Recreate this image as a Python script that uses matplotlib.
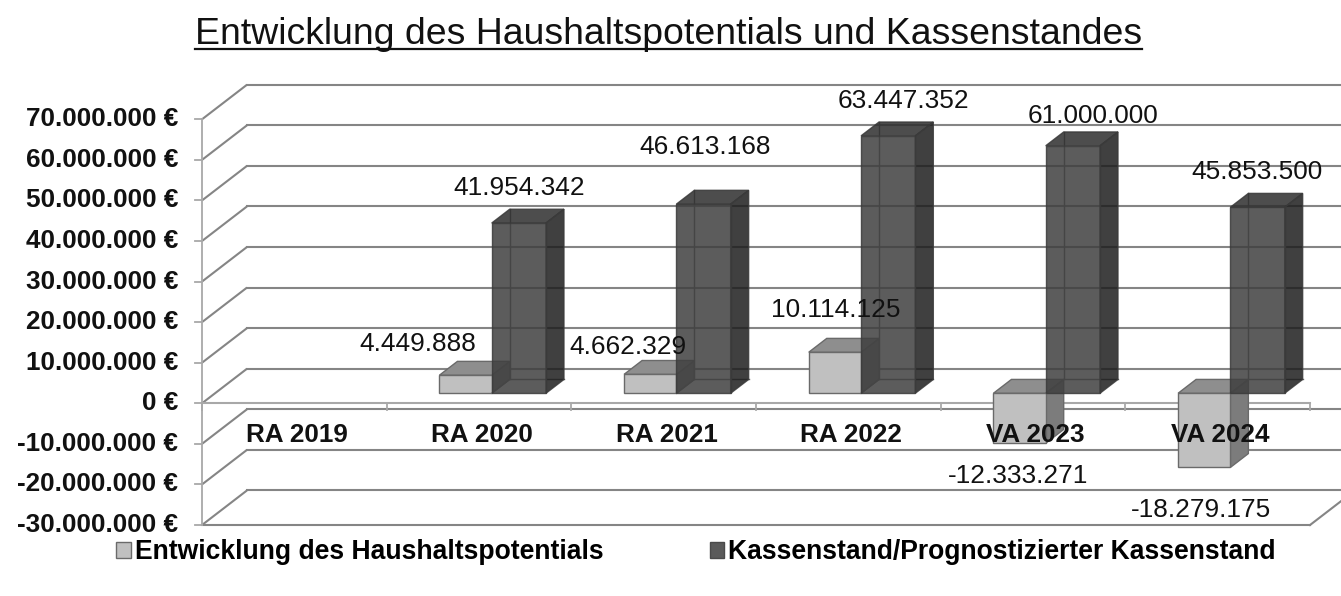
import numpy as np
import matplotlib
matplotlib.use("Agg")
import matplotlib.pyplot as plt
from matplotlib.patches import Polygon, Patch
from matplotlib.lines import Line2D

plt.rcParams['font.family'] = ['Liberation Sans', 'DejaVu Sans']

# ---------------- data ----------------
title = "Entwicklung des Haushaltspotentials und Kassenstandes"
categories = ["RA 2019", "RA 2020", "RA 2021", "RA 2022", "VA 2023", "VA 2024"]
series_names = ["Entwicklung des Haushaltspotentials",
                "Kassenstand/Prognostizierter Kassenstand"]
haushalt = [np.nan, 4449888, 4662329, 10114125, -12333271, -18279175]
kassenstand = [np.nan, 41954342, 46613168, 63447352, 61000000, 45853500]
y_ticks = [-30e6, -20e6, -10e6, 0, 10e6, 20e6, 30e6, 40e6, 50e6, 60e6, 70e6]


def de(v):
    return f"{v:,.0f}".replace(",", ".")


y_ticklabels = [de(t) + " €" for t in y_ticks]

# label nudges (pixels, relative to default anchor) - layout only
light_nudge = [(0, 0), (-57, 17), (-31, 14), (-8, 28), (-11, -33), (-12, -43)]
dark_nudge = [(0, 0), (-9, 21), (-7, 43), (6, 21), (11, 16), (-10, 21)]

# ---------------- layout ----------------
W, H = 1341, 596
fig = plt.figure(figsize=(W / 100, H / 100), dpi=100)
ax = fig.add_axes([0, 0, 1, 1])
ax.axis('off')

PX_CAT = 184.67
X0_PX = 202.0
PX_PER_EUR = 40.57 / 10e6
Y0_PX = 403.3
ax.set_xlim(-X0_PX / PX_CAT, (W - X0_PX) / PX_CAT)
ax.set_ylim(-(H - Y0_PX) / PX_PER_EUR, Y0_PX / PX_PER_EUR)

DX = 45 / PX_CAT
DY = 34.6 / PX_PER_EUR


def P(x, y, d):
    return (x + d * DX, y + d * DY)


ncat = len(categories)
ymin, ymax = y_ticks[0], y_ticks[-1]
grid_c = '#858585'
axis_c = '#a8a8a8'

# walls / gridlines
for t, lab in zip(y_ticks, y_ticklabels):
    ax.plot([0, DX], [t, t + DY], color=grid_c, lw=1.5, zorder=1, solid_capstyle='butt')
    ax.plot([DX, ncat + DX], [t + DY, t + DY], color=grid_c, lw=1.5, zorder=1)
    ax.plot([-7 / PX_CAT, 0], [t, t], color=axis_c, lw=1.3, zorder=2)
    ax.text(-24 / PX_CAT, t, lab, ha='right', va='center',
            fontsize=18.8, fontweight='bold', color='#111111', zorder=6)

ax.plot([0, 0], [ymin, ymax], color=axis_c, lw=1.3, zorder=2)
ax.plot([0, ncat], [ymin, ymin], color=grid_c, lw=1.5, zorder=1)
ax.plot([ncat, ncat + DX], [ymin, ymin + DY], color=grid_c, lw=1.5, zorder=1)

# category axis at 0
tick_len = 7 / PX_PER_EUR
ax.plot([0, ncat], [0, 0], color=axis_c, lw=1.5, zorder=2)
for k in range(ncat + 1):
    ax.plot([k, k], [0, -tick_len], color=axis_c, lw=1.3, zorder=2)
for i, c in enumerate(categories):
    ax.text(i + 0.515, -32 / PX_PER_EUR, c, ha='center', va='center', fontsize=18.8,
            fontweight='bold', color='#111111', zorder=8)

# bars
D0, D1 = 0.29, 0.69
LIGHT_X = (0.215, 0.498)
DARK_X = (0.498, 0.792)
light_cols = dict(front='#c0c0c0', top='#8e8e8e', side='#7c7c7c', edge='#6a6a6a')
dark_cols = dict(front='#3f3f3f', top='#2e2e2e', side='#1e1e1e', edge='#3a3a3a')


def draw_bar(i, xs, v, cols, alpha, z):
    xa, xb = i + xs[0], i + xs[1]
    top = max(v, 0)
    if alpha < 1:
        for seg in ([P(xa, 0, D1), P(xa, v, D1)], [P(xa, 0, D1), P(xb, 0, D1)],
                    [P(xa, 0, D0), P(xa, 0, D1)]):
            ax.add_line(Line2D([seg[0][0], seg[1][0]], [seg[0][1], seg[1][1]],
                               color='#6a6a6a', lw=1.0, zorder=z))
    front = [P(xa, 0, D0), P(xb, 0, D0), P(xb, v, D0), P(xa, v, D0)]
    topf = [P(xa, top, D0), P(xb, top, D0), P(xb, top, D1), P(xa, top, D1)]
    side = [P(xb, 0, D0), P(xb, v, D0), P(xb, v, D1), P(xb, 0, D1)]
    for poly, key in ((side, 'side'), (topf, 'top'), (front, 'front')):
        ax.add_patch(Polygon(poly, closed=True, facecolor=cols[key], alpha=alpha,
                             edgecolor=cols['edge'], lw=1.0, zorder=z))


def label_bar(i, xs, v, nudge):
    xc = i + (xs[0] + xs[1]) / 2 + (D0 + D1) / 2 * DX
    if v >= 0:
        y = v + D1 * DY
    else:
        y = v + D0 * DY
    ax.annotate(de(v), (xc, y), xytext=nudge, textcoords='offset pixels',
                ha='center', va='center', fontsize=18.9, color='#111111', zorder=9)


for i in range(ncat):
    if not np.isnan(haushalt[i]):
        draw_bar(i, LIGHT_X, haushalt[i], light_cols, 1.0, 3 + i * 0.1)
    if not np.isnan(kassenstand[i]):
        draw_bar(i, DARK_X, kassenstand[i], dark_cols, 0.85, 3.05 + i * 0.1)

for i in range(ncat):
    if not np.isnan(haushalt[i]):
        label_bar(i, LIGHT_X, haushalt[i], light_nudge[i])
    if not np.isnan(kassenstand[i]):
        label_bar(i, DARK_X, kassenstand[i], dark_nudge[i])

# legend
handles = [Patch(facecolor='#c0c0c0', edgecolor='#6a6a6a'),
           Patch(facecolor='#5a5a5a', edgecolor='#4a4a4a')]
ax.legend(handles=handles, labels=series_names, loc='center left',
          bbox_to_anchor=(116 / W, 1 - 552 / H), ncol=2, frameon=False,
          prop=dict(weight='bold', size=19.1), handlelength=0.55, handleheight=0.55,
          handletextpad=0.16, columnspacing=4.0, borderpad=0, borderaxespad=0)

# title with underline
t = fig.text(668.5 / W, 1 - 44 / H, title, ha='center', va='baseline', fontsize=26.9,
             color='#111111')
fig.canvas.draw()
bb = t.get_window_extent()
yline = (H - 48.5) / H
fig.add_artist(Line2D([bb.x0 / W, bb.x1 / W], [yline, yline], transform=fig.transFigure,
                      color='#111111', lw=1.6))

fig.savefig("out.png", dpi=100)
